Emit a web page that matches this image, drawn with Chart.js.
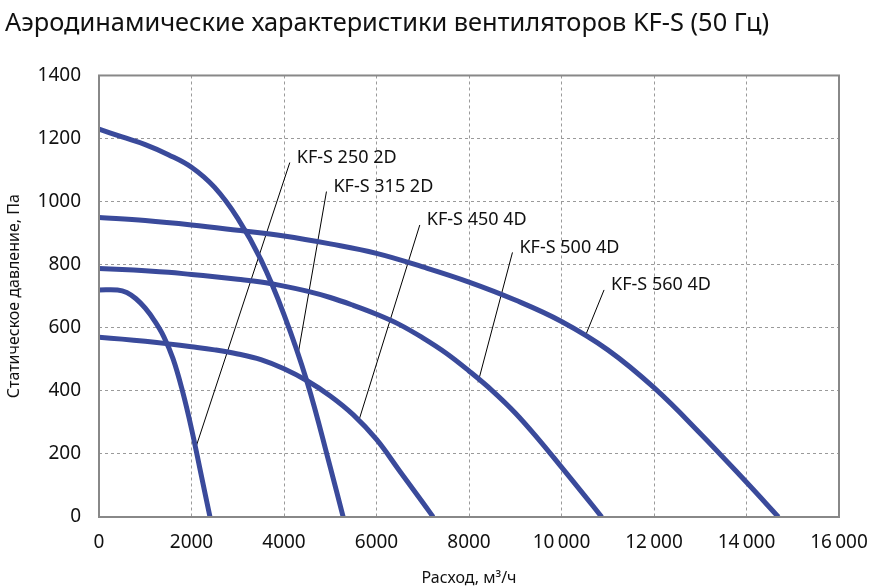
<!DOCTYPE html>
<html>
<head>
<meta charset="utf-8">
<script src="https://cdn.jsdelivr.net/npm/chart.js@4/dist/chart.umd.min.js"></script>
<style>
html,body{margin:0;padding:0;background:#fff;}
#wrap{width:883px;height:588px;position:relative;}
</style>
</head>
<body>
<div id="wrap"><canvas id="c" width="883" height="588"></canvas></div>
<script>
// ---- Data ----
const chartTitle = 'Аэродинамические характеристики вентиляторов KF-S (50 Гц)';
const xAxisTitle = 'Расход, м³/ч';
const yAxisTitle = 'Статическое давление, Па';
const xTickValues = [0, 2000, 4000, 6000, 8000, 10000, 12000, 14000, 16000];
const xTickLabels = ['0', '2000', '4000', '6000', '8000', '10\u2009000', '12\u2009000', '14\u2009000', '16\u2009000'];
const yTickValues = [0, 200, 400, 600, 800, 1000, 1200, 1400];
const yTickLabels = ['0', '200', '400', '600', '800', '1000', '1200', '1400'];

const seriesNames = ['KF-S 250 2D', 'KF-S 315 2D', 'KF-S 450 4D', 'KF-S 500 4D', 'KF-S 560 4D'];

const flow250 = [0, 400, 600, 800, 1000, 1200, 1400, 1600, 1800, 2000, 2200, 2400];
const pres250 = [720, 720, 712, 692, 662, 622, 572, 502, 402, 280, 140, 0];

const flow315 = [0, 500, 1000, 1500, 2000, 2500, 3000, 3500, 4000, 4500, 5000, 5280];
const pres315 = [1230, 1205, 1181, 1149, 1109, 1045, 947, 816, 642, 428, 158, 0];

const flow450 = [0, 500, 1000, 1500, 2000, 2500, 3000, 3500, 4000, 4500, 5000, 5500, 6000, 6500, 7000, 7225];
const pres450 = [570, 564, 557, 549, 540, 530, 517, 499, 470, 432, 384, 324, 246, 146, 46, 0];

const flow500 = [0, 500, 1000, 1500, 2000, 2500, 3000, 3500, 4000, 4500, 5000, 5500, 6000, 6500, 7000, 7500, 8000, 8500, 9000, 9500, 10000, 10500, 10870];
const pres500 = [788, 785, 781, 776, 769, 762, 754, 745, 732, 716, 696, 671, 643, 610, 568, 520, 463, 401, 330, 247, 158, 68, 0];

const flow560 = [0, 1000, 2000, 3000, 4000, 5000, 6000, 7000, 8000, 9000, 10000, 11000, 12000, 13000, 14000, 14690];
const pres560 = [950, 940, 926, 909, 891, 866, 836, 793, 745, 688, 620, 530, 410, 265, 110, 0];

// Leader lines (data units): from label anchor to curve
const leaderFromX = [4125, 4918, 6936, 8940, 10920];
const leaderFromY = [1124, 1032, 926, 839, 720];
const leaderToX   = [2108, 4305, 5623, 8196, 10518];
const leaderToY   = [227, 517, 308, 427, 575];

// ---- Build datasets ----
const curveColor = '#3a4a9b';
const flows = [flow250, flow315, flow450, flow500, flow560];
const press = [pres250, pres315, pres450, pres500, pres560];

const datasets = [];
for (let i = 0; i < seriesNames.length; i++) {
  datasets.push({
    label: 'leader ' + seriesNames[i],
    data: [{x: leaderFromX[i], y: leaderFromY[i]}, {x: leaderToX[i], y: leaderToY[i]}],
    borderColor: '#000',
    borderWidth: 1,
    pointRadius: 0,
    tension: 0,
    order: 2
  });
}
for (let i = 0; i < seriesNames.length; i++) {
  datasets.push({
    label: seriesNames[i],
    data: flows[i].map((f, k) => ({x: f, y: press[i][k]})),
    borderColor: curveColor,
    borderWidth: 5,
    pointRadius: 0,
    tension: 0.4,
    borderCapStyle: 'butt',
    order: 1
  });
}

const boxPlugin = {
  id: 'box',
  afterDraw(chart) {
    const a = chart.chartArea, ctx = chart.ctx;
    ctx.save();
    ctx.strokeStyle = '#888';
    ctx.lineWidth = 2;
    ctx.strokeRect(a.left, a.top, a.right - a.left, a.bottom - a.top);
    ctx.restore();
  }
};

const labelPlugin = {
  id: 'leaderLabels',
  afterDatasetsDraw(chart) {
    const xs = chart.scales.x, ys = chart.scales.y, ctx = chart.ctx;
    ctx.save();
    ctx.font = '18px "Noto Sans"';
    ctx.fillStyle = '#111';
    ctx.textBaseline = 'middle';
    ctx.textAlign = 'left';
    for (let i = 0; i < seriesNames.length; i++) {
      const px = xs.getPixelForValue(leaderFromX[i]);
      const py = ys.getPixelForValue(leaderFromY[i]);
      ctx.fillText(seriesNames[i], px + 7, py - 5);
    }
    ctx.restore();
  }
};

new Chart(document.getElementById('c'), {
  type: 'line',
  data: { datasets },
  plugins: [boxPlugin, labelPlugin],
  options: {
    responsive: false,
    animation: false,
    layout: { padding: { left: 5, right: 44, top: 0, bottom: 0 } },
    plugins: {
      legend: { display: false },
      tooltip: { enabled: false },
      title: {
        display: true,
        text: chartTitle,
        align: 'start',
        color: '#111',
        font: { family: 'Noto Sans', size: 25.4, weight: 'normal' },
        padding: { top: 9, bottom: 36 }
      }
    },
    scales: {
      x: {
        type: 'linear',
        min: 0, max: 16000,
        afterBuildTicks(scale) { scale.ticks = xTickValues.map(v => ({value: v})); },
        afterFit(scale) { scale.height = 71; },
        ticks: {
          color: '#111',
          font: { family: 'Noto Sans', size: 19 },
          padding: 14,
          maxRotation: 0,
          autoSkip: false,
          callback: (v) => { const i = xTickValues.indexOf(v); return i >= 0 ? xTickLabels[i] : ''; }
        },
        grid: { color: '#9a9a9a', lineWidth: 1, drawTicks: false },
        border: { display: false, dash: [3, 3] },
        title: { display: true, text: xAxisTitle, color: '#111', font: { family: 'Noto Sans', size: 16 }, padding: { top: 8, bottom: 0 } }
      },
      y: {
        type: 'linear',
        min: 0, max: 1400,
        afterBuildTicks(scale) { scale.ticks = yTickValues.map(v => ({value: v})); },
        afterFit(scale) { scale.width = 94; },
        ticks: {
          color: '#111',
          font: { family: 'Noto Sans', size: 19 },
          padding: 18,
          autoSkip: false,
          callback: (v) => { const i = yTickValues.indexOf(v); return i >= 0 ? yTickLabels[i] : ''; }
        },
        grid: { color: '#9a9a9a', lineWidth: 1, drawTicks: false },
        border: { display: false, dash: [3, 3] },
        title: { display: true, text: yAxisTitle, color: '#111', font: { family: 'Noto Sans', size: 16 }, padding: { top: 0, bottom: 0 } }
      }
    }
  }
});
</script>
</body>
</html>
